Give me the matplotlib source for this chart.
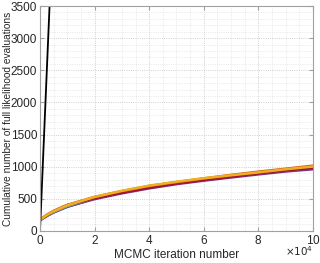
import matplotlib
matplotlib.use('Agg')
import matplotlib.pyplot as plt
from matplotlib.ticker import MultipleLocator

# MCMC iterations and cumulative full-likelihood evaluations
iters = [0, 2500, 5000, 10000, 20000, 30000, 40000, 50000, 60000, 70000, 80000, 90000, 100000]
blue = [165, 235, 290, 375, 505, 598, 678, 742, 797, 848, 892, 937, 972]
purple = [166, 232, 287, 378, 495, 585, 662, 728, 782, 832, 880, 925, 960]
green = [170, 240, 298, 388, 512, 605, 685, 748, 802, 852, 900, 945, 985]
lightblue = [172, 242, 300, 392, 518, 614, 695, 755, 810, 860, 906, 952, 992]
darkred = [168, 240, 308, 402, 508, 596, 675, 740, 795, 845, 895, 942, 980]
orange = [176, 252, 312, 405, 530, 620, 700, 760, 817, 872, 922, 968, 1015]
yellow = [172, 247, 306, 398, 528, 624, 705, 765, 820, 866, 911, 960, 1002]

full_iters = [0, 100000]
full_evals = [0, 100000]

plt.rcParams['font.family'] = ['Liberation Sans', 'DejaVu Sans']
plt.rcParams['font.size'] = 8

fig = plt.figure(figsize=(3.2, 2.63), dpi=100)
ax = fig.add_axes([0.125, 0.122, 0.853, 0.855])

series = [(blue, '#0072BD'), (purple, '#7E2F8E'), (green, '#77AC30'),
          (lightblue, '#4DBEEE'), (darkred, '#A2142F'), (orange, '#D95319'),
          (yellow, '#EDB120')]
for vals, c in series:
    ax.plot(iters, vals, color=c, lw=1.8)
ax.plot(full_iters, full_evals, color='black', lw=1.3)

ax.set_xlim(0, 100000)
ax.set_ylim(0, 3500)
ax.xaxis.set_major_locator(MultipleLocator(20000))
ax.xaxis.set_minor_locator(MultipleLocator(5000))
ax.yaxis.set_major_locator(MultipleLocator(500))
ax.yaxis.set_minor_locator(MultipleLocator(100))
ax.ticklabel_format(axis='x', style='sci', scilimits=(4, 4), useMathText=True)
ax.xaxis.get_offset_text().set_visible(False)
ax.text(1.0, -0.06, r'$\times10^4$', transform=ax.transAxes, ha='right', va='top',
        color='#262626', fontsize=7.5)

ax.grid(which='major', ls=':', color='#c0c0c0', lw=0.6)
ax.grid(which='minor', ls=':', color='#dadada', lw=0.5)
ax.tick_params(which='both', direction='in', colors='#a0a0a0', labelcolor='#262626',
               top=True, right=True, length=3, labelsize=8.5, pad=2)
ax.tick_params(which='minor', length=0)
for s in ax.spines.values():
    s.set_color('#a0a0a0')
    s.set_linewidth(0.8)

ax.set_xlabel('MCMC iteration number', color='#262626', labelpad=2, fontsize=8.5)
ax.set_ylabel('Cumulative number of full likelihood evaluations', color='#262626',
              fontsize=7.3)
ax.yaxis.set_label_coords(-0.1, 0.5)

fig.savefig('out.png', dpi=100)
